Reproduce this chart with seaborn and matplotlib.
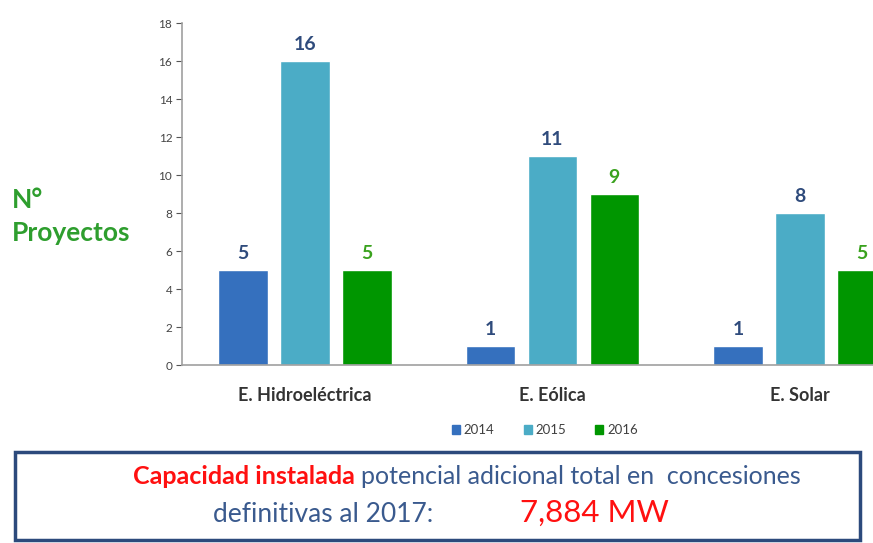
import matplotlib
matplotlib.use("Agg")
import matplotlib.pyplot as plt
import matplotlib.patches as mpatches
import seaborn as sns
import pandas as pd

# Data
categories = ["E. Hidroeléctrica", "E. Eólica", "E. Solar"]
years = ["2014", "2015", "2016"]
values_2014 = [5, 1, 1]
values_2015 = [16, 11, 8]
values_2016 = [5, 9, 5]
y_ticks = [0, 2, 4, 6, 8, 10, 12, 14, 16, 18]

bar_colors = ["#3570BE", "#4BACC6", "#009600"]
label_colors = ["#2F4B7C", "#2F4B7C", "#3AA21E"]
text_blue = "#3A5A8E"
text_red = "#FF1010"

df = pd.DataFrame({
    "Categoria": categories * 3,
    "Año": [years[0]] * 3 + [years[1]] * 3 + [years[2]] * 3,
    "Proyectos": values_2014 + values_2015 + values_2016,
})

sns.set_style("white")
plt.rcParams["font.family"] = ["Lato", "DejaVu Sans"]

W, H = 873, 543
fig = plt.figure(figsize=(W / 100, H / 100), dpi=100)
ax = fig.add_axes([182 / W, 1 - 365 / H, 1 - 182 / W + 0.05, (365 - 23) / H])

sns.barplot(data=df, x="Categoria", y="Proyectos", hue="Año",
            palette=bar_colors, saturation=1, gap=0.2, width=0.75, ax=ax,
            legend=False)

ax.set_ylim(0, 18)
ax.set_yticks(y_ticks)
ax.set_xlim(-0.497, 2.295 + 0.05 * W / 247.5)
ax.set_xlabel("")
ax.set_ylabel("")
ax.tick_params(axis="y", labelsize=8.5, colors="#555555", length=4, width=0.8,
               direction="out", left=True, pad=3)
ax.tick_params(axis="x", length=0, pad=16, labelsize=13)
for lbl in ax.get_xticklabels():
    lbl.set_fontweight("bold")
    lbl.set_color("#333333")
for lbl in ax.get_yticklabels():
    lbl.set_color("#444444")

for side in ["top", "right"]:
    ax.spines[side].set_visible(False)
for side in ["left", "bottom"]:
    ax.spines[side].set_color("#A0A0A0")
    ax.spines[side].set_linewidth(1.2)

# value labels on top of each bar
for cont, col in zip(ax.containers, label_colors):
    ax.bar_label(cont, padding=6, fontsize=14, fontweight="bold", color=col)

# y axis title
fig.text(12 / W, 1 - 200 / H, "N°", fontsize=19, fontweight="bold",
         color="#2E9E2E", ha="left", va="center")
fig.text(12 / W, 1 - 233 / H, "Proyectos", fontsize=19, fontweight="bold",
         color="#2E9E2E", ha="left", va="center")

# legend
handles = [mpatches.Patch(color=c, label=y) for c, y in zip(bar_colors, years)]
fig.legend(handles=handles, loc="center", bbox_to_anchor=(545 / W, 1 - 430 / H),
           ncol=3, frameon=False, fontsize=9.5, handlelength=0.6, handleheight=0.6,
           handletextpad=0.3, columnspacing=2.2, labelcolor="#404040")

# summary box
box = mpatches.Rectangle((15 / W, 1 - 540 / H), (860 - 15) / W, (540 - 452) / H,
                         transform=fig.transFigure, fill=False,
                         edgecolor="#2C4A7C", linewidth=2.5)
fig.patches.append(box)

renderer = fig.canvas.get_renderer()
t1 = fig.text(133 / W, 1 - 476 / H, "Capacidad instalada", fontsize=18,
              fontweight="bold", color=text_red, ha="left", va="center")
ext = t1.get_window_extent(renderer)
fig.text((ext.x1 + 6) / W, 1 - 476 / H, "potencial adicional total en  concesiones",
         fontsize=18, color=text_blue, ha="left", va="center")

fig.text(213 / W, 1 - 514 / H, "definitivas al 2017:", fontsize=19,
         color=text_blue, ha="left", va="center")
fig.text(520 / W, 1 - 513 / H, "7,884 MW", fontsize=22.5, color=text_red,
         ha="left", va="center")

fig.savefig("out.png", dpi=100)
